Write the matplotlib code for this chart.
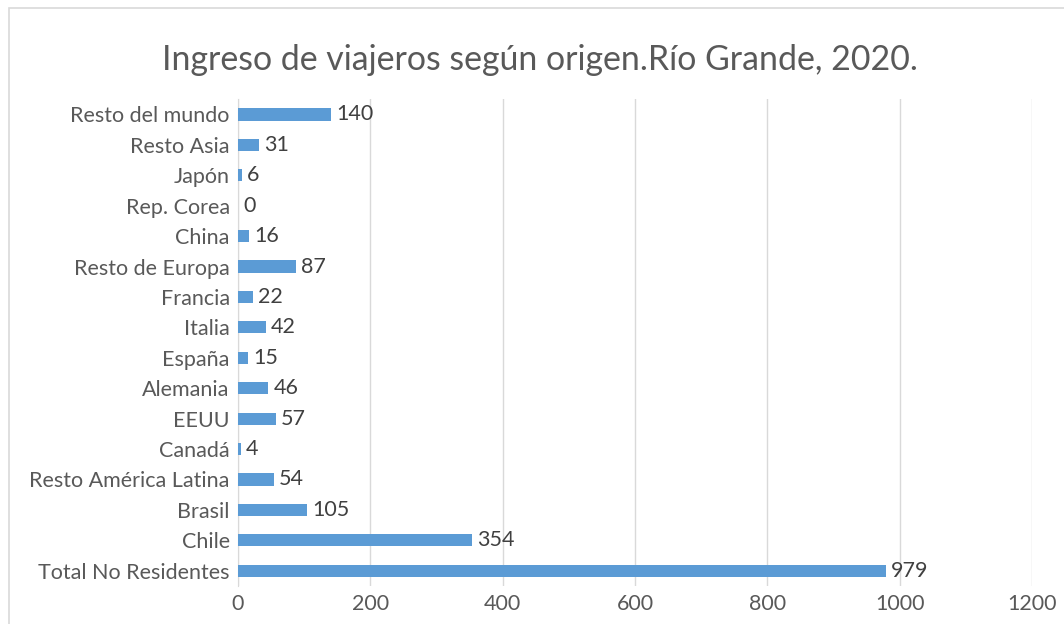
import matplotlib
matplotlib.use("Agg")
import matplotlib.pyplot as plt
from matplotlib.patches import Rectangle

# Ingreso de viajeros según origen. Río Grande, 2020
origenes = ['Total No Residentes', 'Chile', 'Brasil', 'Resto América Latina', 'Canadá',
            'EEUU', 'Alemania', 'España', 'Italia', 'Francia', 'Resto de Europa',
            'China', 'Rep. Corea', 'Japón', 'Resto Asia', 'Resto del mundo']
viajeros = [979, 354, 105, 54, 4, 57, 46, 15, 42, 22, 87, 16, 0, 6, 31, 140]
xticks = [0, 200, 400, 600, 800, 1000, 1200]

gris = '#595959'
plt.rcParams['font.family'] = ['Lato', 'DejaVu Sans']

fig = plt.figure(figsize=(10.64, 6.24), dpi=100)
fig.patches.append(Rectangle((0.008, -0.01), 1.1, 0.997, transform=fig.transFigure,
                             fill=False, edgecolor='#D9D9D9', linewidth=1.2))
ax = fig.add_axes([0.2237, 0.061, 0.7463, 0.780])

pos = range(len(origenes))
ax.barh(pos, viajeros, height=0.4, color='#5B9BD5', zorder=3)
for i, v in enumerate(viajeros):
    ax.text(v + 8, i, str(v), va='center', ha='left', fontsize=15.5, color='#404040')

ax.set_yticks(list(pos))
ax.set_yticklabels(origenes, fontsize=15.5, color=gris)
ax.set_xticks(xticks)
ax.set_xticklabels([str(t) for t in xticks], fontsize=15.5, color=gris)
ax.set_xlim(0, 1200)
ax.set_ylim(-0.5, len(origenes) - 0.5)
ax.grid(axis='x', color='#D9D9D9', linewidth=1, zorder=0)
for s in ['top', 'right', 'bottom']:
    ax.spines[s].set_visible(False)
ax.spines['left'].set_color('#D9D9D9')
ax.tick_params(length=0, pad=6)
ax.tick_params(axis='x', pad=6)

fig.suptitle('Ingreso de viajeros según origen.Río Grande, 2020.', x=0.507, y=0.93,
             fontsize=24.4, color=gris)

fig.savefig('out.png', dpi=100)
